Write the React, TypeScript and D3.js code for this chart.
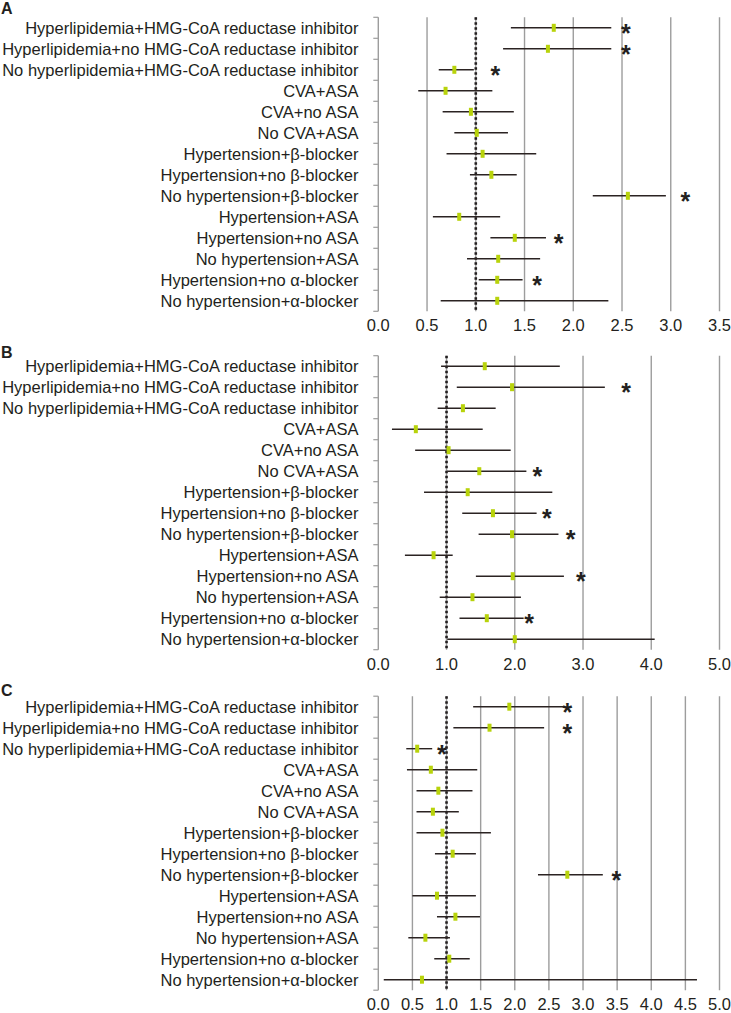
import React from "react";
import * as d3 from "d3";

const categories = [
  "Hyperlipidemia+HMG-CoA reductase inhibitor",
  "Hyperlipidemia+no HMG-CoA reductase inhibitor",
  "No hyperlipidemia+HMG-CoA reductase inhibitor",
  "CVA+ASA",
  "CVA+no ASA",
  "No CVA+ASA",
  "Hypertension+β-blocker",
  "Hypertension+no β-blocker",
  "No hypertension+β-blocker",
  "Hypertension+ASA",
  "Hypertension+no ASA",
  "No hypertension+ASA",
  "Hypertension+no α-blocker",
  "No hypertension+α-blocker",
];

// Panel A
const estA = [1.80, 1.74, 0.78, 0.69, 0.95, 1.01, 1.07, 1.16, 2.56, 0.83, 1.40, 1.23, 1.22, 1.22];
const lowA = [1.36, 1.28, 0.62, 0.41, 0.66, 0.78, 0.70, 0.94, 2.20, 0.56, 1.15, 0.91, 1.03, 0.64];
const highA = [2.39, 2.39, 0.98, 1.17, 1.39, 1.33, 1.62, 1.42, 2.95, 1.25, 1.72, 1.66, 1.48, 2.36];
const starA: (number | null)[] = [2.54, 2.54, 1.20, null, null, null, null, null, 3.15, null, 1.85, null, 1.63, null];
const ticksA = [0, 0.5, 1.0, 1.5, 2.0, 2.5, 3.0, 3.5];

// Panel B
const estB = [1.56, 1.96, 1.24, 0.55, 1.03, 1.48, 1.31, 1.68, 1.96, 0.81, 1.97, 1.38, 1.59, 2.00];
const lowB = [0.92, 1.15, 0.87, 0.20, 0.54, 1.01, 0.67, 1.23, 1.47, 0.39, 1.43, 0.90, 1.19, 1.01];
const highB = [2.66, 3.32, 1.72, 1.53, 1.94, 2.17, 2.55, 2.32, 2.64, 1.09, 2.72, 2.09, 2.13, 4.05];
const starB: (number | null)[] = [null, 3.63, null, null, null, 2.33, null, 2.47, 2.82, null, 2.97, null, 2.21, null];
const ticksB = [0, 1.0, 2.0, 3.0, 4.0, 5.0];

// Panel C
const estC = [1.92, 1.63, 0.57, 0.77, 0.88, 0.80, 0.94, 1.09, 2.77, 0.86, 1.13, 0.69, 1.04, 0.64];
const lowC = [1.39, 1.10, 0.41, 0.42, 0.56, 0.56, 0.56, 0.83, 2.34, 0.50, 0.86, 0.44, 0.82, 0.08];
const highC = [2.72, 2.43, 0.79, 1.45, 1.38, 1.18, 1.65, 1.43, 3.29, 1.43, 1.49, 1.05, 1.34, 4.67];
const starC: (number | null)[] = [2.77, 2.77, 0.93, null, null, null, null, null, 3.49, null, null, null, null, null];
const ticksC = [0, 0.5, 1.0, 1.5, 2.0, 2.5, 3.0, 3.5, 4.0, 4.5, 5.0];

const panelLetters = ["A", "B", "C"];

type Panel = {
  letter: string;
  letterY: number;
  top: number;
  est: number[];
  low: number[];
  high: number[];
  star: (number | null)[];
  ticks: number[];
};

const panels: Panel[] = [
  { letter: panelLetters[0], letterY: 14, top: 17.3, est: estA, low: lowA, high: highA, star: starA, ticks: ticksA },
  { letter: panelLetters[1], letterY: 358, top: 355.7, est: estB, low: lowB, high: highB, star: starB, ticks: ticksB },
  { letter: panelLetters[2], letterY: 696, top: 696.2, est: estC, low: lowC, high: highC, star: starC, ticks: ticksC },
];

const FONT = "'Liberation Sans', Arial, Helvetica, sans-serif";
const X0 = 378.3;
const X1 = 719.5;
const BAND = 21;
const STAR_FS = 25;

function PanelView({ p }: { p: Panel }) {
  const xMax = p.ticks[p.ticks.length - 1];
  const x = d3.scaleLinear().domain([0, xMax]).range([X0, X1]);
  const y = d3
    .scaleBand<number>()
    .domain(d3.range(categories.length))
    .range([p.top, p.top + BAND * categories.length]);
  const bottom = p.top + BAND * categories.length;
  const boundaries = d3.range(categories.length + 1).map((i) => p.top + i * BAND);
  return (
    <g>
      <text x={1} y={p.letterY} fontFamily={FONT} fontWeight="bold" fontSize={16} fill="#231f20">
        {p.letter}
      </text>
      {p.ticks
        .filter((t) => t > 0)
        .map((t) => (
          <line key={"g" + t} x1={x(t)} x2={x(t)} y1={p.top} y2={bottom} stroke="#9d9d9d" strokeWidth={1.4} />
        ))}
      <line x1={X0} x2={X0} y1={p.top} y2={bottom} stroke="#9d9d9d" strokeWidth={1.4} />
      {boundaries.map((b, i) => (
        <line key={"t" + i} x1={X0 - 5} x2={X0} y1={b} y2={b} stroke="#9d9d9d" strokeWidth={1.2} />
      ))}
      <line
        x1={x(1)}
        x2={x(1)}
        y1={p.top}
        y2={bottom}
        stroke="#231f20"
        strokeWidth={2.6}
        strokeDasharray="2.5,2.5"
      />
      {categories.map((c, i) => (
        <text
          key={"l" + i}
          x={358.5}
          y={(y(i) as number) + BAND / 2 + 6}
          textAnchor="end"
          fontFamily={FONT}
          fontSize={16.5}
          fill="#231f20"
        >
          {c}
        </text>
      ))}
      {p.est.map((e, i) => {
        const cy = (y(i) as number) + BAND / 2;
        return (
          <g key={"d" + i}>
            <line x1={x(p.low[i])} x2={x(p.high[i])} y1={cy} y2={cy} stroke="#2b2322" strokeWidth={1.4} />
            <rect x={x(e) - 2} y={cy - 4} width={4} height={8} fill="#b8d30b" />
            {p.star[i] != null && (
              <text
                x={x(p.star[i] as number)}
                y={cy + STAR_FS * 0.56}
                textAnchor="middle"
                fontFamily={FONT}
                fontWeight="bold"
                fontSize={STAR_FS}
                fill="#231f20"
              >
                *
              </text>
            )}
          </g>
        );
      })}
      {p.ticks.map((t) => (
        <text
          key={"x" + t}
          x={x(t)}
          y={bottom + 20}
          textAnchor="middle"
          fontFamily={FONT}
          fontSize={16.5}
          fill="#231f20"
        >
          {d3.format(".1f")(t)}
        </text>
      ))}
    </g>
  );
}

export default function App() {
  return (
    <svg
      width={731}
      height={1013}
      style={{ position: "absolute", left: 0, top: 0, background: "#fff" }}
    >
      <rect x={0} y={0} width={731} height={1013} fill="#fff" />
      {panels.map((p) => (
        <PanelView key={p.letter} p={p} />
      ))}
    </svg>
  );
}
